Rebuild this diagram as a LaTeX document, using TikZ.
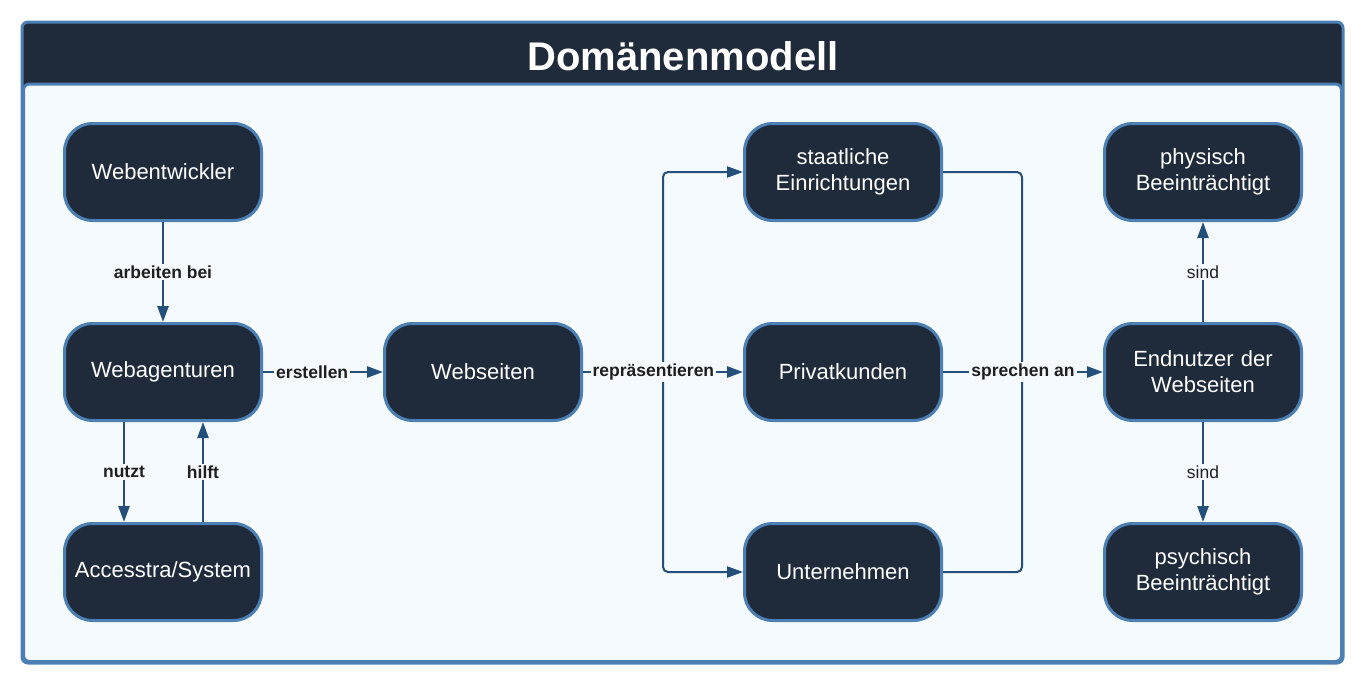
\documentclass[tikz,border=0pt]{standalone}
\usepackage{fontspec}
\setmainfont{Liberation Sans}
\usetikzlibrary{positioning, arrows.meta}
\definecolor{navy}{HTML}{1F2A3B}
\definecolor{rim}{HTML}{4C80B5}
\definecolor{wire}{HTML}{234F7A}
\definecolor{paper}{HTML}{F5FAFE}
\tikzstyle{entity} = [rectangle, rounded corners=28pt,
minimum width=197pt,
minimum height=97pt,
text width=188pt,
align=center,
font=\fontsize{22}{26}\selectfont,
text=white,
fill=navy,
line width=3pt,
draw=rim]
\tikzstyle{edgelabel} = [fill=paper, inner sep=2pt,
text=black!88,
font=\fontsize{17.5}{20}\selectfont\bfseries]
\tikzstyle{plainlabel} = [edgelabel, font=\fontsize{17.5}{20}\selectfont]
\tikzstyle{arrow} = [line width=2.5pt, draw=wire, -{Triangle[length=16pt 0 0, width=11pt 0 0]}]
\tikzstyle{branch} = [line width=2pt, rounded corners=5pt]

\begin{document}
\begin{tikzpicture}[x=1pt, y=-1pt, node distance=200pt]
\def\gap{160pt}
\useasboundingbox (0,0) rectangle (1370,688);

% frame and title
\draw [draw=rim, fill=navy, line width=3pt, rounded corners=6pt] (22,22) rectangle (1343,663);
\draw [draw=rim, fill=paper, line width=3pt, rounded corners=6pt] (23.5,84) rectangle (1341.5,661.5);
\node (title) [text=white, font=\fontsize{40}{44}\selectfont\bfseries] at (683,56) {Domänenmodell};

\node (dev) [entity] at (163,172) {Webentwickler};
\node (agency) [entity, below of=dev] {Webagenturen};
\node (tool) [entity, below of=agency] {Accesstra/System};

\node (sites) [entity, right of=agency, xshift=120pt] {Webseiten};

\node (private) [entity, right of=sites, xshift=\gap] {Privatkunden};
\node (state) [entity, above of=private] {staatliche\\ Einrichtungen};
\node (company) [entity, below of=private] {Unternehmen};

\node (users) [entity, right of=private, xshift=\gap] {Endnutzer der\\ Webseiten};
\node (physical) [entity, above of=users] {physisch\\ Beeinträchtigt};
\node (mental) [entity, below of=users] {psychisch\\ Beeinträchtigt};

\coordinate (fork) at (663,372);
\coordinate (merge) at (1022,372);

\draw [arrow] (dev) -- node [edgelabel] {arbeiten bei} (agency);
\draw [arrow] ([xshift=-39pt]agency.south) -- node [edgelabel] {nutzt} ([xshift=-39pt]tool.north);
\draw [arrow] ([xshift=40pt]tool.north) -- node [edgelabel] {hilft} ([xshift=40pt]agency.south);
\draw [arrow] (agency) -- node [edgelabel, pos=0.41] {erstellen} (sites);

\draw [arrow, branch] (fork) |- (state);
\draw [arrow, branch] (fork) |- (company);
\draw [arrow] (sites) -- node [edgelabel, pos=0.44] {repräsentieren} (private);

\draw [draw=wire, branch] (state) -| (merge);
\draw [draw=wire, branch] (company) -| (merge);
\draw [arrow] (private) -- node [edgelabel] {sprechen an} (users);

\draw [arrow] (users) -- node [plainlabel] {sind} (physical);
\draw [arrow] (users) -- node [plainlabel] {sind} (mental);

\end{tikzpicture}
\end{document}
